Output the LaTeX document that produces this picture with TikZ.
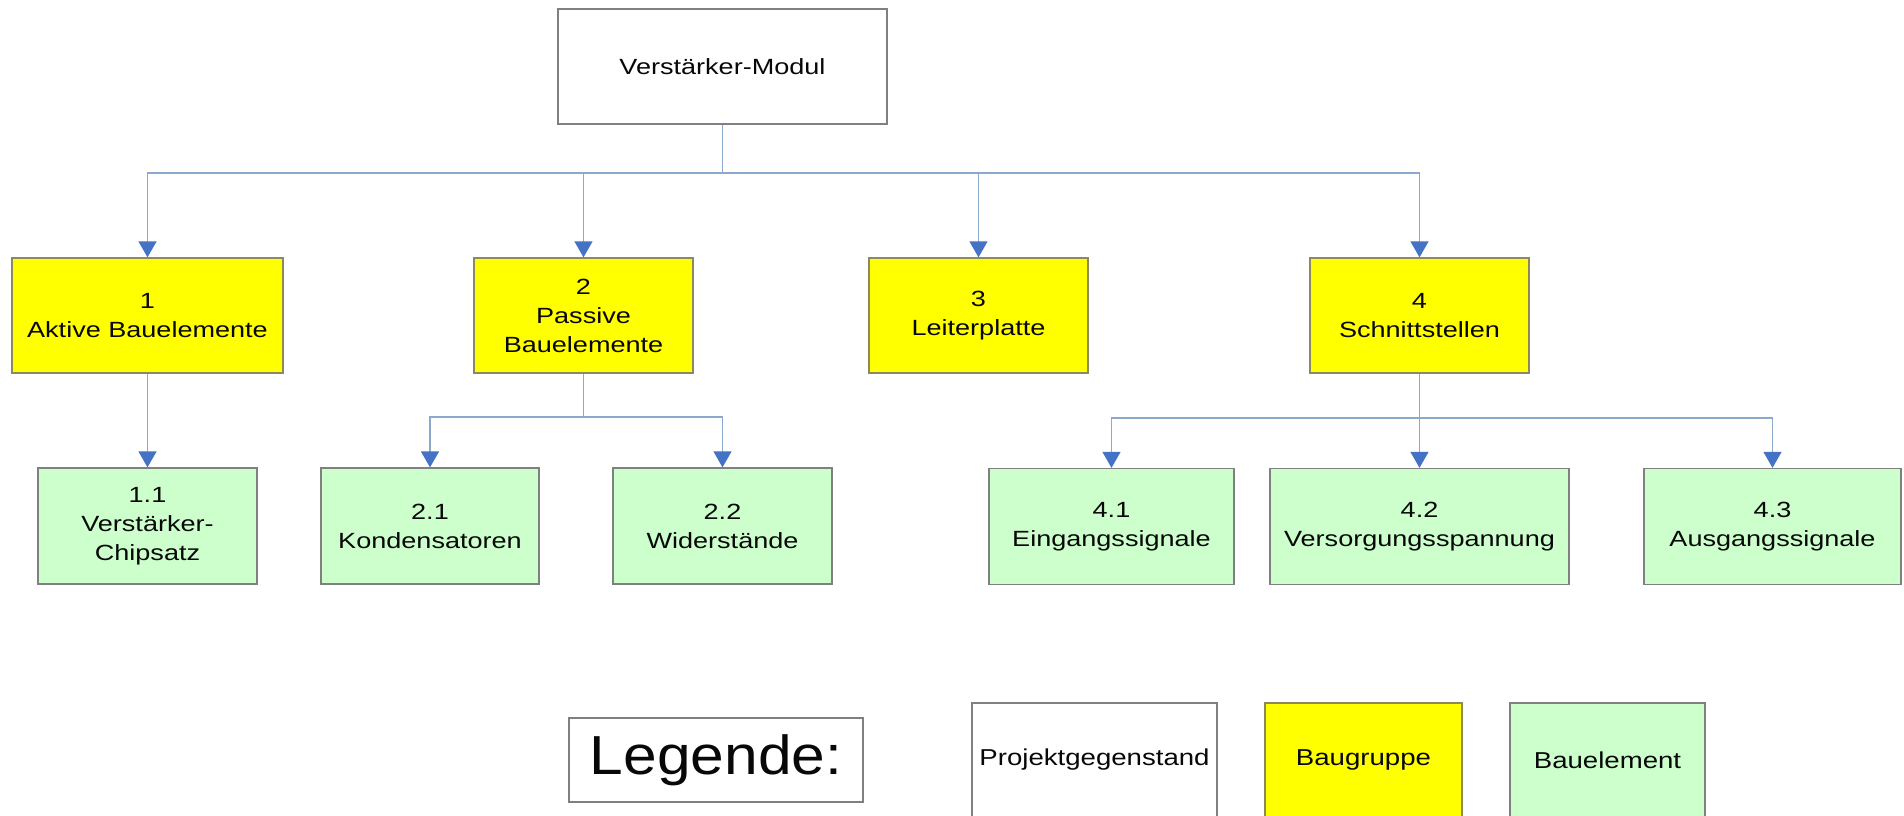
\documentclass[tikz,border=0pt]{standalone}
\usepackage{fontspec}
\setmainfont{Liberation Sans}[FakeStretch=1.23]
\newfontfamily\legendfont{Liberation Sans}[FakeStretch=1.1]
\newfontfamily\keyfont{Liberation Sans}[FakeStretch=1.2]
\usetikzlibrary{arrows.meta}
\definecolor{connc}{RGB}{140,168,204}
\definecolor{tipc}{RGB}{68,114,196}
\definecolor{grpc}{RGB}{255,255,0}
\definecolor{elemc}{RGB}{204,255,204}
\definecolor{edgec}{RGB}{128,128,128}
\definecolor{grpedge}{RGB}{140,138,90}
\definecolor{txtc}{RGB}{8,8,8}

\begin{document}
\begin{tikzpicture}[x=1pt,y=-1pt,
  box/.style={draw=edgec, line width=1.3pt, inner sep=0pt, align=center,
    text=txtc, font=\fontsize{22}{29}\selectfont},
  proj/.style={box, fill=white},
  grp/.style={box, fill=grpc, draw=grpedge, minimum width=219pt, minimum height=115pt},
  elem/.style={box, fill=elemc, minimum height=116pt},
  key/.style={box, minimum height=114pt, font=\keyfont\fontsize{23}{28}\selectfont},
  conn/.style={draw=connc, line width=1.3pt},
  arr/.style={conn, -{Triangle[width=18pt,length=16pt,color=tipc]}},
]
\clip (0,0) rectangle (1904,815);
\fill[white] (0,0) rectangle (1904,815);

% top level
\node[proj, minimum width=329pt, minimum height=115pt] (root) at (722.5,66.5) {Verstärker-Modul};

% assemblies
\node[grp, minimum width=271pt] (b1) at (147.5,315.5) {1\\Aktive Bauelemente};
\node[grp] (b2) at (583.5,315.5) {2\\Passive\\Bauelemente};
\node[grp] (b3) at (978.5,315.5) {3\\Leiterplatte};
\node[grp] (b4) at (1419.5,315.5) {4\\Schnittstellen};

% components
\node[elem, minimum width=219pt] (b11) at (147.5,526) {1.1\\Verstärker-\\Chipsatz};
\node[elem, minimum width=218pt] (b21) at (430,526) {2.1\\Kondensatoren};
\node[elem, minimum width=219pt] (b22) at (722.5,526) {2.2\\Widerstände};
\node[elem, minimum width=245pt] (b41) at (1111.5,526.5) {4.1\\Eingangssignale};
\node[elem, minimum width=299pt] (b42) at (1419.5,526.5) {4.2\\Versorgungsspannung};
\node[elem, minimum width=257pt] (b43) at (1772.5,526.5) {4.3\\Ausgangssignale};

% junctions of the connector trees
\coordinate (j0) at (722.5,173);
\coordinate (j2) at (583.5,417);
\coordinate (j4) at (1419.5,418);

\draw[conn] (root.south) -- (j0);
\draw[arr] (j0) -| (b1.north);
\draw[arr] (j0) -| (b2.north);
\draw[arr] (j0) -| (b3.north);
\draw[arr] (j0) -| (b4.north);

\draw[arr] (b1.south) -- (b11.north);

\draw[conn] (b2.south) -- (j2);
\draw[arr] (j2) -| (b21.north);
\draw[arr] (j2) -| (b22.north);

\draw[conn] (b4.south) -- (j4);
\draw[arr] (j4) -| (b41.north);
\draw[arr] (j4) -- (b42.north);
\draw[arr] (j4) -| (b43.north);

% legend
\node[proj, minimum width=294pt, minimum height=84pt, font=\legendfont\fontsize{55}{60}\selectfont] (leg) at (716,760) {Legende:};
\node[key, fill=white, minimum width=245pt] (kp) at (1094.5,760) {Projektgegenstand};
\node[key, fill=grpc, draw=grpedge, minimum width=197pt] (kg) at (1363.5,760) {Baugruppe};
\node[key, fill=elemc, minimum width=195pt] (ke) at (1607.5,760) {Bauelement};
\end{tikzpicture}
\end{document}
